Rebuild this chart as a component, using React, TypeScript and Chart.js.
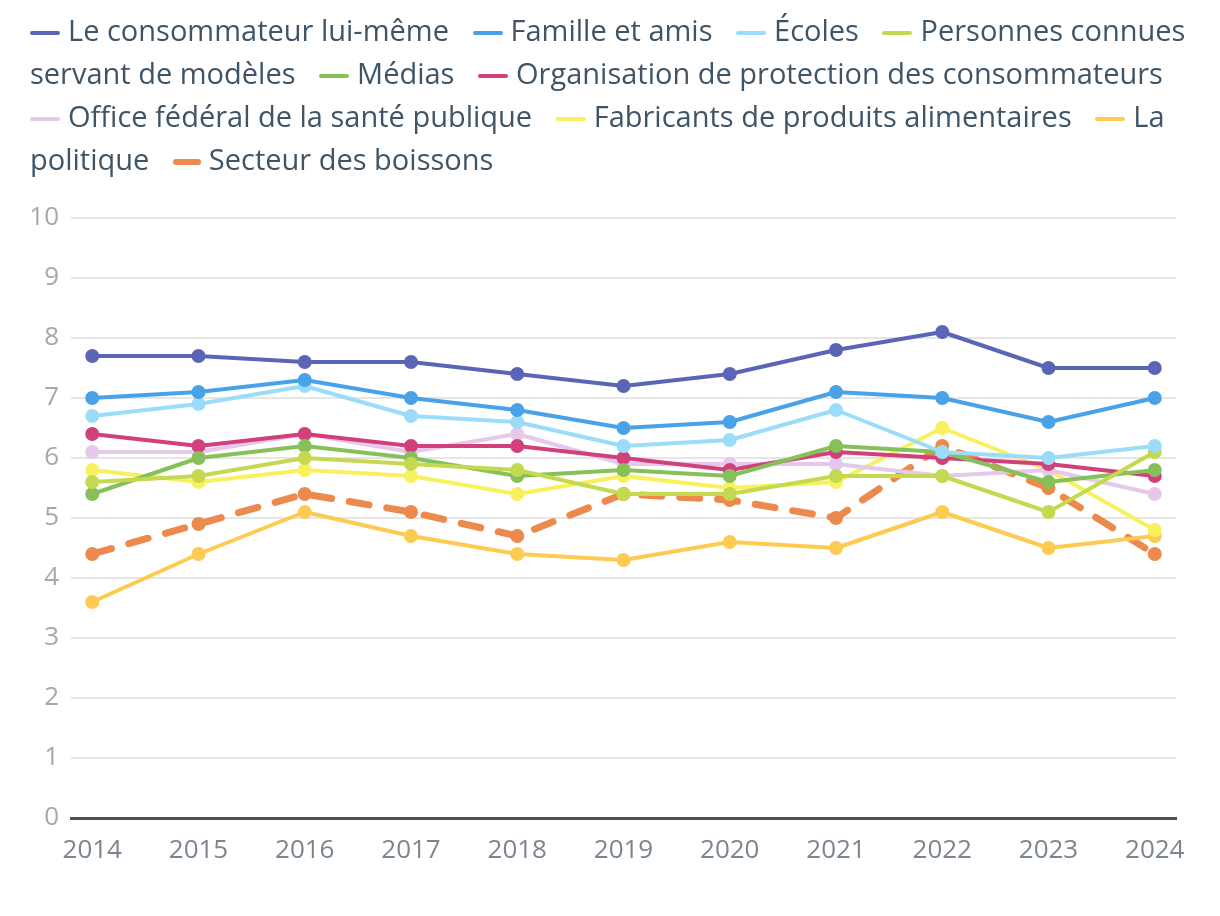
import React, { useEffect, useRef } from "react";
import { Chart, registerables } from "chart.js";

Chart.register(...registerables);

const years = [2014, 2015, 2016, 2017, 2018, 2019, 2020, 2021, 2022, 2023, 2024];

const seriesNames = [
  "Le consommateur lui-même",
  "Famille et amis",
  "Écoles",
  "Personnes connues servant de modèles",
  "Médias",
  "Organisation de protection des consommateurs",
  "Office fédéral de la santé publique",
  "Fabricants de produits alimentaires",
  "La politique",
  "Secteur des boissons",
];

const seriesColors = [
  "#5a66b5",
  "#49a1e8",
  "#9adcf9",
  "#c4d94f",
  "#85c158",
  "#d2407c",
  "#e6c8ea",
  "#f9f05e",
  "#fdca52",
  "#ec8a4d",
];

const consommateur = [7.7, 7.7, 7.6, 7.6, 7.4, 7.2, 7.4, 7.8, 8.1, 7.5, 7.5];
const familleAmis = [7.0, 7.1, 7.3, 7.0, 6.8, 6.5, 6.6, 7.1, 7.0, 6.6, 7.0];
const ecoles = [6.7, 6.9, 7.2, 6.7, 6.6, 6.2, 6.3, 6.8, 6.1, 6.0, 6.2];
const personnesConnues = [5.6, 5.7, 6.0, 5.9, 5.8, 5.4, 5.4, 5.7, 5.7, 5.1, 6.1];
const medias = [5.4, 6.0, 6.2, 6.0, 5.7, 5.8, 5.7, 6.2, 6.1, 5.6, 5.8];
const organisation = [6.4, 6.2, 6.4, 6.2, 6.2, 6.0, 5.8, 6.1, 6.0, 5.9, 5.7];
const officeFederal = [6.1, 6.1, 6.4, 6.1, 6.4, 5.9, 5.9, 5.9, 5.7, 5.8, 5.4];
const fabricants = [5.8, 5.6, 5.8, 5.7, 5.4, 5.7, 5.5, 5.6, 6.5, 5.8, 4.8];
const politique = [3.6, 4.4, 5.1, 4.7, 4.4, 4.3, 4.6, 4.5, 5.1, 4.5, 4.7];
const boissons = [4.4, 4.9, 5.4, 5.1, 4.7, 5.4, 5.3, 5.0, 6.2, 5.5, 4.4];

const allSeries = [
  consommateur,
  familleAmis,
  ecoles,
  personnesConnues,
  medias,
  organisation,
  officeFederal,
  fabricants,
  politique,
  boissons,
];

const dashedIndex = 9;
const FONT = "'Open Sans', sans-serif";

export default function App() {
  const ref = useRef<HTMLCanvasElement>(null);

  useEffect(() => {
    const datasets = allSeries.map((vals, i) => ({
      label: seriesNames[i],
      data: vals.map((v, j) => ({ x: years[j], y: v })),
      borderColor: seriesColors[i],
      backgroundColor: seriesColors[i],
      pointBackgroundColor: seriesColors[i],
      pointBorderColor: seriesColors[i],
      pointRadius: 7,
      pointBorderWidth: 0,
      borderWidth: i === dashedIndex ? 7 : 4,
      borderDash: i === dashedIndex ? [20, 18] : [],
      borderCapStyle: i === dashedIndex ? "round" : "butt",
      borderJoinStyle: "round",
      tension: 0,
      fill: false,
    }));

    const chart = new Chart(ref.current as HTMLCanvasElement, {
      type: "line",
      data: { datasets } as any,
      options: {
        animation: false,
        responsive: false,
        layout: { padding: { left: 0, right: 36, top: 210, bottom: 30 } },
        plugins: {
          legend: { display: false },
          tooltip: { enabled: false },
        },
        scales: {
          x: {
            type: "linear",
            min: 2013.8,
            max: 2024.2,
            ticks: {
              stepSize: 1,
              includeBounds: false,
              autoSkip: false,
              maxRotation: 0,
              padding: 17,
              color: "#7b8590",
              font: { family: FONT, size: 26 },
              callback: (v: any) => (Number.isInteger(v) ? String(v) : ""),
            },
            grid: { display: false, drawTicks: false },
            border: { display: true, color: "#46535e", width: 3 },
            afterFit: (s: any) => {
              s.height = 60;
            },
          },
          y: {
            min: 0,
            max: 10,
            ticks: {
              stepSize: 1,
              padding: 12,
              color: "#a3a9ae",
              font: { family: FONT, size: 26 },
            },
            grid: { color: "#e6e6e6", lineWidth: 2, drawTicks: false },
            border: { display: false },
            afterFit: (s: any) => {
              s.width = 63;
            },
          },
        },
      } as any,
    });
    return () => chart.destroy();
  }, []);

  return (
    <div style={{ position: "relative", width: 1204, height: 900, fontFamily: FONT }}>
      <canvas
        ref={ref}
        width={1204}
        height={900}
        style={{ position: "absolute", left: 0, top: 0, width: 1204, height: 900 }}
      />
      <div
        style={{
          position: "absolute",
          left: 22,
          top: 0,
          width: 1175,
          fontSize: 29,
          lineHeight: "43px",
          color: "#3f5567",
        }}
      >
        {seriesNames.map((name, i) => {
          const words = name.split(" ");
          const first = words[0];
          const rest = words.slice(1).join(" ");
          return (
            <React.Fragment key={i}>
              <span style={{ marginRight: 16 }}>
                <span style={{ whiteSpace: "nowrap" }}>
                  <span
                    style={{
                      display: "inline-block",
                      width: i === dashedIndex ? 28 : 30,
                      height: i === dashedIndex ? 6 : 4,
                      borderRadius: 3,
                      background: seriesColors[i],
                      verticalAlign: "middle",
                      marginRight: 8,
                    }}
                  />
                  {first}
                </span>
                {rest ? " " + rest : ""}
              </span>{" "}
            </React.Fragment>
          );
        })}
      </div>
    </div>
  );
}
